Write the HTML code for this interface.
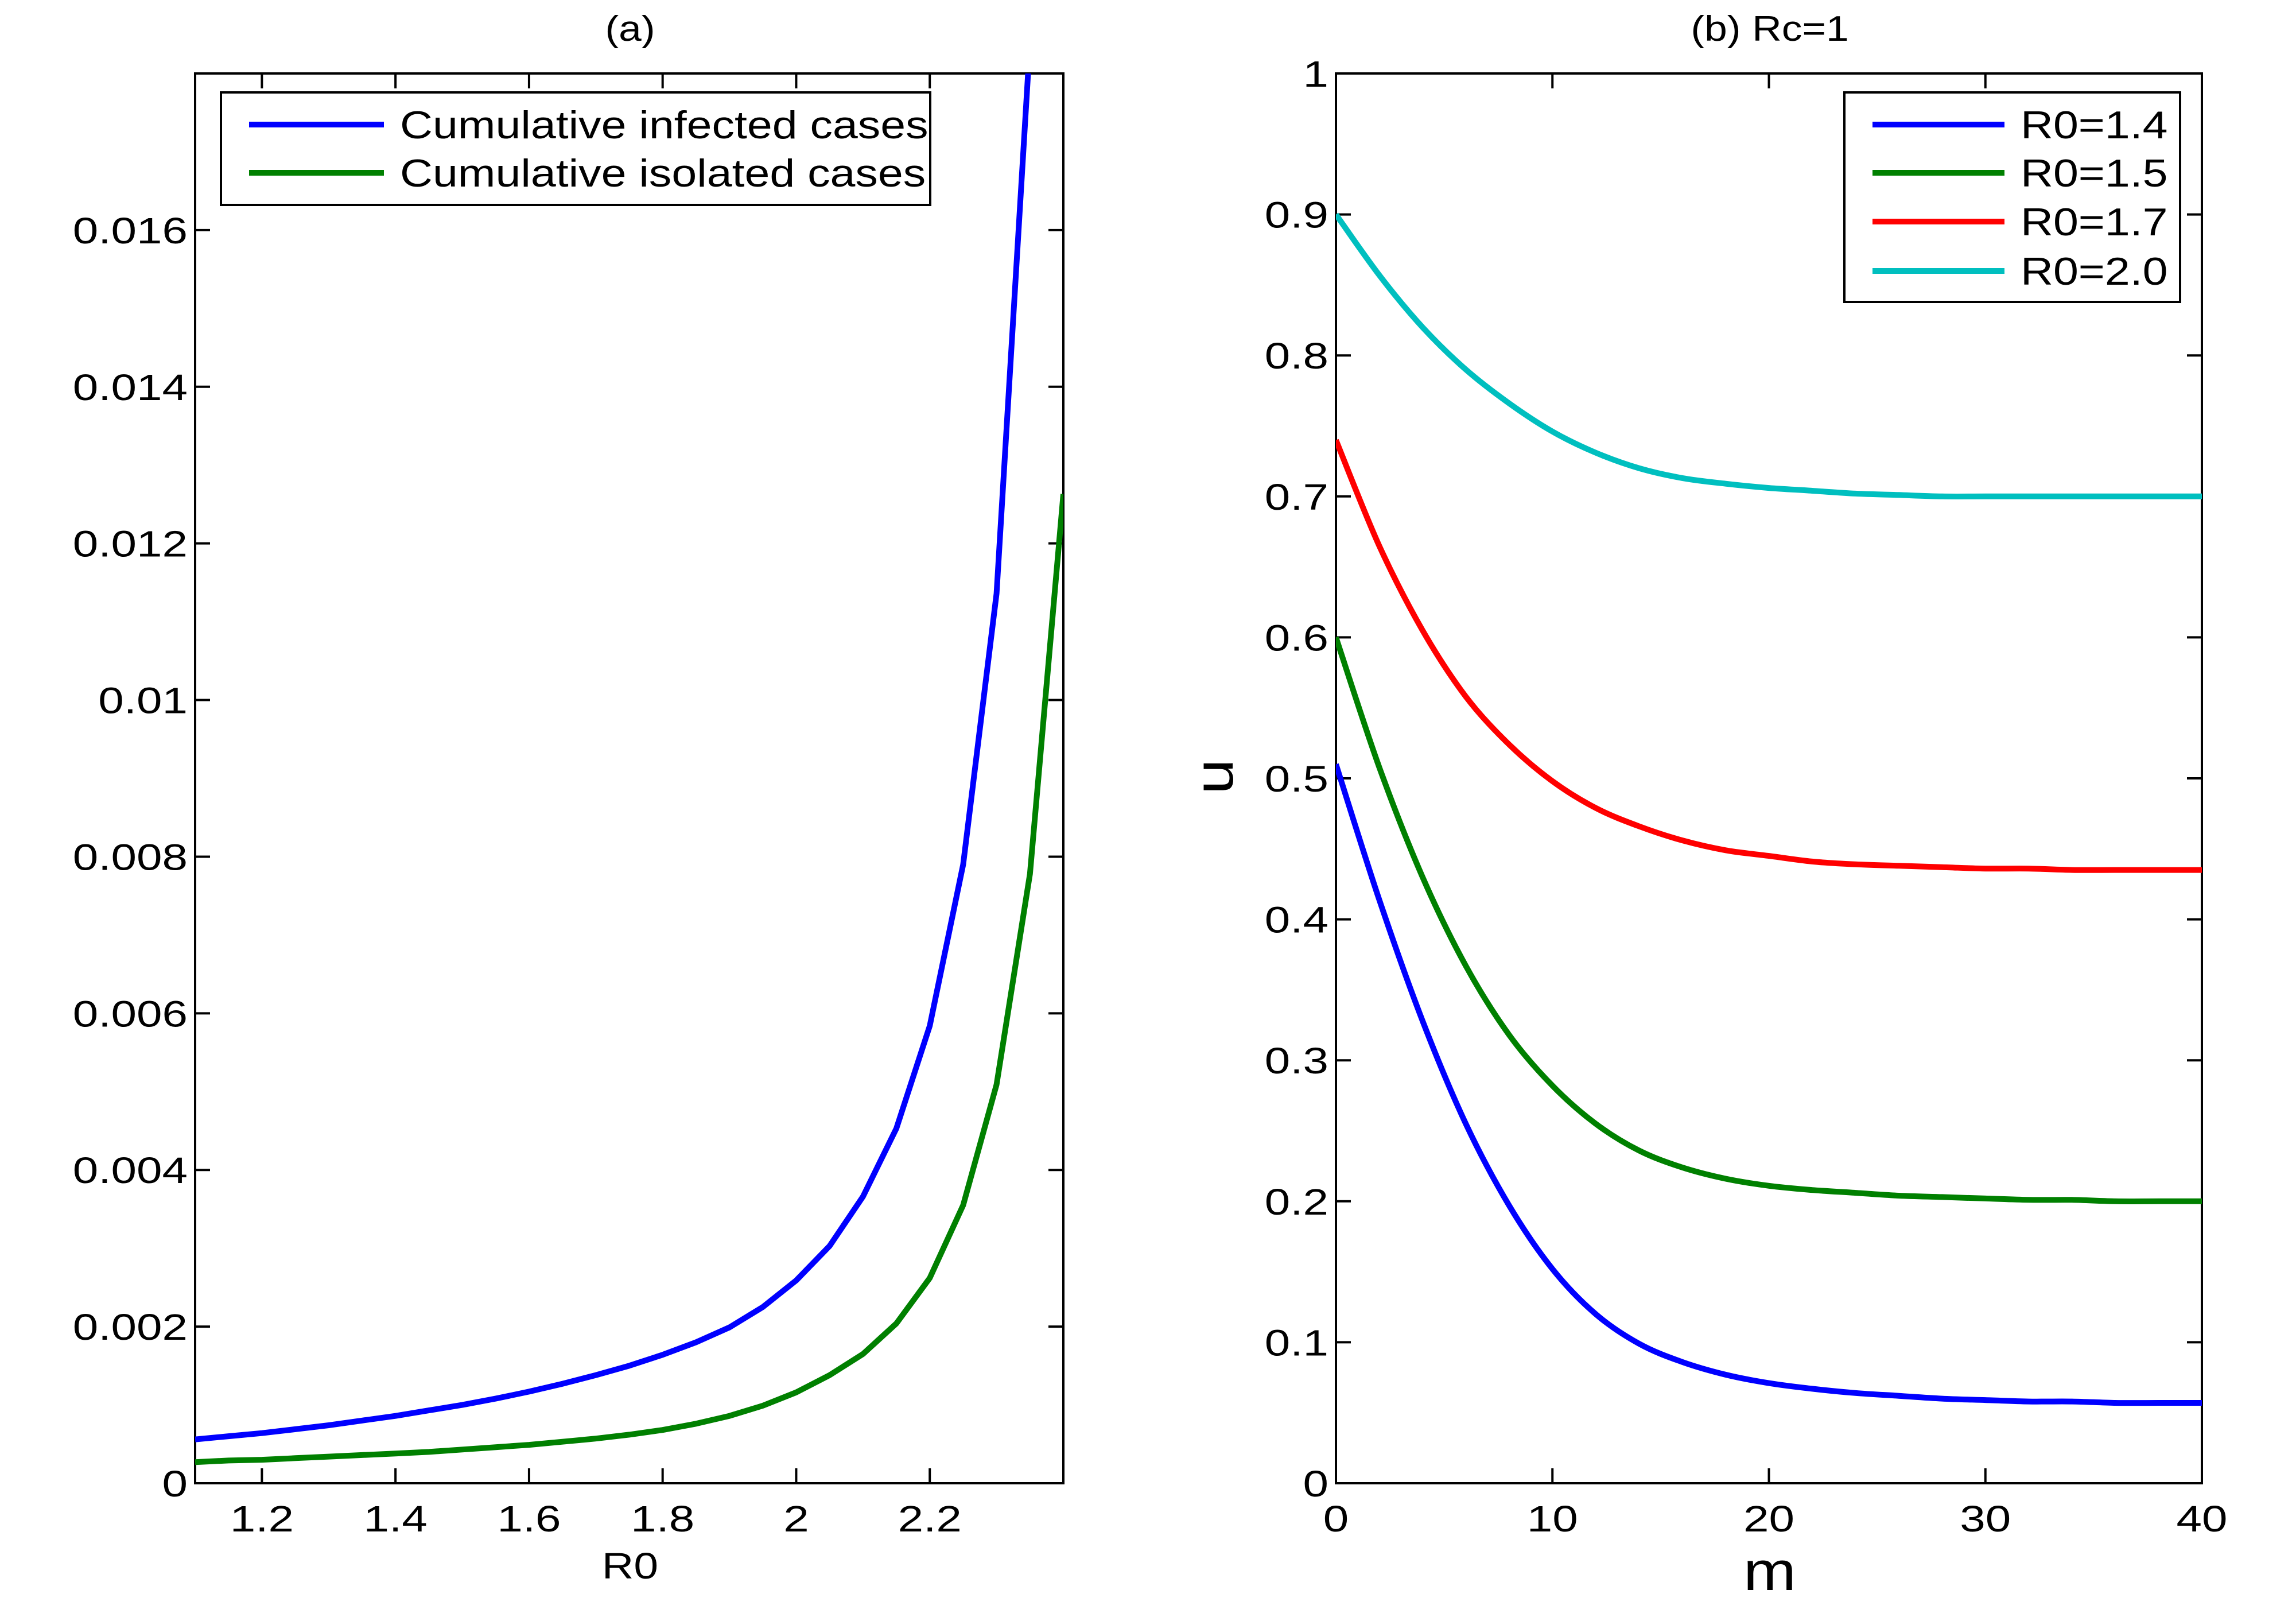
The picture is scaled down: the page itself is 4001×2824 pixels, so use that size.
<!DOCTYPE html>
<html><head><meta charset="utf-8"><style>
html,body{margin:0;padding:0;background:#fff;}
svg{display:block;font-family:"Liberation Sans",Arial,sans-serif;}
</style></head><body>
<svg id="chart" width="4001" height="2824" viewBox="0 0 4001 2824" xmlns="http://www.w3.org/2000/svg">
<rect width="4001" height="2824" fill="#fff"/>
<g id="pa"></g>
<g id="pb"></g>
</svg>
<script>
// Panel (a) data
const aX = [1.1,1.15,1.2,1.25,1.3,1.35,1.4,1.45,1.5,1.55,1.6,1.65,1.7,1.75,1.8,1.85,1.9,1.95,2.0,2.05,2.1,2.15,2.2,2.25,2.3,2.35,2.4];
const aInfected = [.00056,.0006,.00064,.00069,.00074,.0008,.00086,.00093,.001,.00108,.00117,.00127,.00138,.0015,.00164,.0018,.00199,.00225,.00259,.00303,.00366,.00453,.00584,.0079,.01136,.0184,null];
const aIsolated = [.00027,.00029,.0003,.00032,.00034,.00036,.00038,.0004,.00043,.00046,.00049,.00053,.00057,.00062,.00068,.00076,.00086,.00099,.00116,.00138,.00165,.00204,.00262,.00355,.00509,.00778,.01263];
const aXTicks = [1.2,1.4,1.6,1.8,2,2.2];
const aXTickLabels = ["1.2","1.4","1.6","1.8","2","2.2"];
const aYTicks = [0,0.002,0.004,0.006,0.008,0.01,0.012,0.014,0.016];
const aYTickLabels = ["0","0.002","0.004","0.006","0.008","0.01","0.012","0.014","0.016"];
// Panel (b) data
const bM = [0,2,4,6,8,10,12,14,16,18,20,22,24,26,28,30,32,34,36,38,40];
const bR14 = [.51,.414,.328,.255,.197,.152,.12,.099,.086,.077,.071,.067,.064,.062,.06,.059,.058,.058,.057,.057,.057];
const bR15 = [.6,.508,.43,.367,.318,.282,.255,.236,.224,.216,.211,.208,.206,.204,.203,.202,.201,.201,.2,.2,.2];
const bR17 = [.74,.665,.605,.558,.524,.498,.479,.466,.456,.449,.445,.441,.439,.438,.437,.436,.436,.435,.435,.435,.435];
const bR20 = [.9,.857,.82,.79,.766,.746,.731,.72,.713,.709,.706,.704,.702,.701,.7,.7,.7,.7,.7,.7,.7];
const bXTicks = [0,10,20,30,40];
const bXTickLabels = ["0","10","20","30","40"];
const bYTicks = [0,.1,.2,.3,.4,.5,.6,.7,.8,.9,1];
const bYTickLabels = ["0","0.1","0.2","0.3","0.4","0.5","0.6","0.7","0.8","0.9","1"];

const NS="http://www.w3.org/2000/svg";
function mk(parent,tag,attrs,text){const e=document.createElementNS(NS,tag);for(const k in attrs)e.setAttribute(k,attrs[k]);if(text!==undefined)e.textContent=text;parent.appendChild(e);return e;}
function txt(parent,x,y,size,sx,anchor,s){
  return mk(parent,'text',{x:0,y:0,'font-size':size,'text-anchor':anchor,transform:'translate('+x+','+y+') scale('+sx+',1)'},s);
}

function axes(g,L,R,T,B,xmin,xmax,ymin,ymax,xt,xtl,yt,ytl){
  const sx=v=>L+(v-xmin)/(xmax-xmin)*(R-L);
  const sy=v=>B-(v-ymin)/(ymax-ymin)*(B-T);
  const cp=mk(g,'clipPath',{id:g.id+'clip'});mk(cp,'rect',{x:L,y:T,width:R-L,height:B-T});
  xt.forEach((v,i)=>{
    const x=sx(v);
    const t1=mk(g,'line',{x1:x,x2:x,y1:B,y2:B-26,stroke:'#000','stroke-width':4});
    
    
    mk(g,'line',{x1:x,x2:x,y1:T,y2:T+26,stroke:'#000','stroke-width':4});
    const tl=txt(g,x,2668,64,1.25,'middle',xtl[i]);
    
    
  });
  yt.forEach((v,i)=>{
    const y=sy(v);
    const t1=mk(g,'line',{x1:L,x2:L+26,y1:y,y2:y,stroke:'#000','stroke-width':4});
    
    
    mk(g,'line',{x1:R,x2:R-26,y1:y,y2:y,stroke:'#000','stroke-width':4});
    const tl=txt(g,L-13,y+23,64,1.25,'end',ytl[i]);
    
    
  });
  const box=mk(g,'rect',{x:L,y:T,width:R-L,height:B-T,fill:'none',stroke:'#000','stroke-width':4});
  
  
  return {sx,sy};
}
function series(g,xs,ys,sx,sy,color,name,smooth){
  const pts=[];xs.forEach((x,i)=>{if(ys[i]!==null)pts.push([sx(x),sy(ys[i])]);});
  let d='M'+pts[0][0].toFixed(1)+','+pts[0][1].toFixed(1);
  for(let i=1;i<pts.length;i++){
    if(!smooth){d+='L'+pts[i][0].toFixed(1)+','+pts[i][1].toFixed(1);continue;}
    const p0=pts[Math.max(0,i-2)],p1=pts[i-1],p2=pts[i],p3=pts[Math.min(pts.length-1,i+1)];
    const c1=[p1[0]+(p2[0]-p0[0])/6,p1[1]+(p2[1]-p0[1])/6];
    const c2=[p2[0]-(p3[0]-p1[0])/6,p2[1]-(p3[1]-p1[1])/6];
    d+='C'+c1.map(v=>v.toFixed(1)).join(',')+' '+c2.map(v=>v.toFixed(1)).join(',')+' '+p2.map(v=>v.toFixed(1)).join(',');
  }
  const p=mk(g,'path',{d:d,fill:'none',stroke:color,'stroke-width':10,'stroke-linejoin':'round','clip-path':'url(#'+g.id+'clip)'});
  
  
}
function legend(g,x,y,w,h,items,lx1,lx2,tx,rows){
  const r=mk(g,'rect',{x:x,y:y,width:w,height:h,fill:'#fff',stroke:'#000','stroke-width':4});
  
  
  items.forEach((it,i)=>{
    const gi=mk(g,'g',{});
    
    
    mk(gi,'line',{x1:lx1,x2:lx2,y1:rows[i],y2:rows[i],stroke:it[1],'stroke-width':10});
    txt(gi,tx,rows[i]+24,68,1.16,'start',it[0]);
  });
}
// Panel a
const ga=document.getElementById('pa');
const A=axes(ga,340,1853,128,2584,1.1,2.4,0,0.018,aXTicks,aXTickLabels,aYTicks,aYTickLabels);
series(ga,aX,aInfected,A.sx,A.sy,'#0000ff','infected-line',false);
series(ga,aX,aIsolated,A.sx,A.sy,'#008000','isolated-line',false);
const ta=txt(ga,1098,71,62,1.15,'middle','(a)');


const xa=txt(ga,1098,2750,64,1.2,'middle','R0');


legend(ga,385,161,1236,196,[['Cumulative infected cases','#0000ff'],['Cumulative isolated cases','#008000']],434,669,697,[217,301]);
// Panel b
const gb=document.getElementById('pb');
const B=axes(gb,2328,3837,128,2584,0,40,0,1,bXTicks,bXTickLabels,bYTicks,bYTickLabels);
series(gb,bM,bR14,B.sx,B.sy,'#0000ff','r0-1.4-line',true);
series(gb,bM,bR15,B.sx,B.sy,'#008000','r0-1.5-line',true);
series(gb,bM,bR17,B.sx,B.sy,'#ff0000','r0-1.7-line',true);
series(gb,bM,bR20,B.sx,B.sy,'#00bfbf','r0-2.0-line',true);
const tb=txt(gb,3084,71,62,1.15,'middle','(b) Rc=1');


const xb=txt(gb,3084,2770,96,1.15,'middle','m');


const yb=mk(gb,'text',{x:0,y:0,'font-size':96,'text-anchor':'middle',transform:'translate(2148,1353) rotate(-90) scale(1.15,1)'},'u');


legend(gb,3214,161,585,365,[['R0=1.4','#0000ff'],['R0=1.5','#008000'],['R0=1.7','#ff0000'],['R0=2.0','#00bfbf']],3263,3493,3521,[217,301,386,472]);
</script>
</body></html>
